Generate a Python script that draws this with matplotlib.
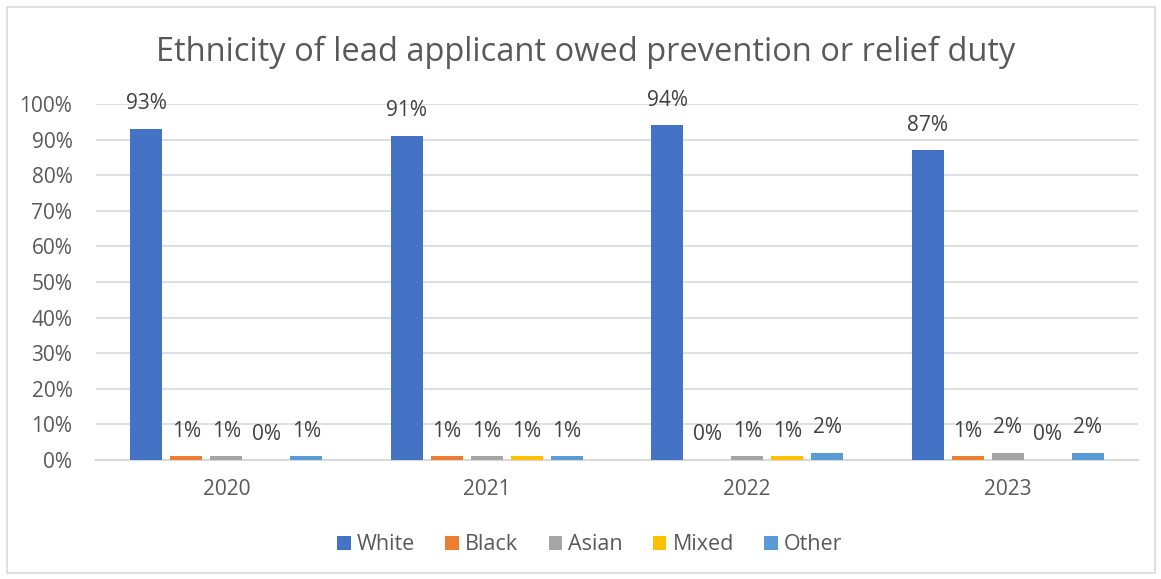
import matplotlib
matplotlib.use("Agg")
import matplotlib.pyplot as plt
import numpy as np
from matplotlib.patches import Rectangle

years = ["2020", "2021", "2022", "2023"]
series_names = ["White", "Black", "Asian", "Mixed", "Other"]
white = [93, 91, 94, 87]
black = [1, 1, 0, 1]
asian = [1, 1, 1, 2]
mixed = [0, 1, 1, 0]
other = [1, 1, 2, 2]
series_values = [white, black, asian, mixed, other]
colors = ["#4472C4", "#ED7D31", "#A5A5A5", "#FFC000", "#5B9BD5"]
yticks = [0, 10, 20, 30, 40, 50, 60, 70, 80, 90, 100]

plt.rcParams['font.family'] = ['Open Sans', 'DejaVu Sans']
txt = "#595959"

fig = plt.figure(figsize=(11.61, 5.79), dpi=100)
ax = fig.add_axes([96/1161, 119/579, (1138-96)/1161, (460-104)/579])

x = np.arange(len(years))
step = 40/260.5
width = 32/260.5
for i, (name, vals, c) in enumerate(zip(series_names, series_values, colors)):
    pos = x + (i - 2) * step
    ax.bar(pos, vals, width, color=c, label=name, zorder=3)
    for p, v in zip(pos, vals):
        ax.annotate(f"{v}%", (p, v), xytext=(0, 10.5), textcoords="offset points",
                    ha="center", va="bottom", fontsize=15, color="#404040")

ax.set_ylim(0, 100)
ax.set_xlim(-0.5, len(years) - 0.5)
ax.set_yticks(yticks)
ax.set_yticklabels([f"{t}%" for t in yticks], fontsize=15, color=txt)
ax.set_xticks(x)
ax.set_xticklabels(years, fontsize=15, color=txt)
ax.tick_params(axis='y', length=0, pad=17)
ax.tick_params(axis='x', length=0, pad=14)
ax.grid(axis='y', color="#D9D9D9", linewidth=1.2, zorder=0)
for s in ["top", "right", "left"]:
    ax.spines[s].set_visible(False)
ax.spines["bottom"].set_color("#D9D9D9")
ax.spines["bottom"].set_linewidth(1.5)

fig.text(586/1161, 1 - 52/579, "Ethnicity of lead applicant owed prevention or relief duty",
         ha="center", va="center", fontsize=23.5, color=txt)

leg = fig.legend(loc="center", bbox_to_anchor=(590/1161, 1 - 545/579), ncol=5, frameon=False,
                 fontsize=15.5, handlelength=0.62, handleheight=0.62, handletextpad=0.3,
                 columnspacing=1.4)
for t in leg.get_texts():
    t.set_color(txt)

fig.patches.append(Rectangle((7/1161, 6/579), 1148/1161, 566/579, transform=fig.transFigure,
                             fill=False, edgecolor="#D9D9D9", linewidth=1.2))

fig.savefig("out.png", dpi=100)
